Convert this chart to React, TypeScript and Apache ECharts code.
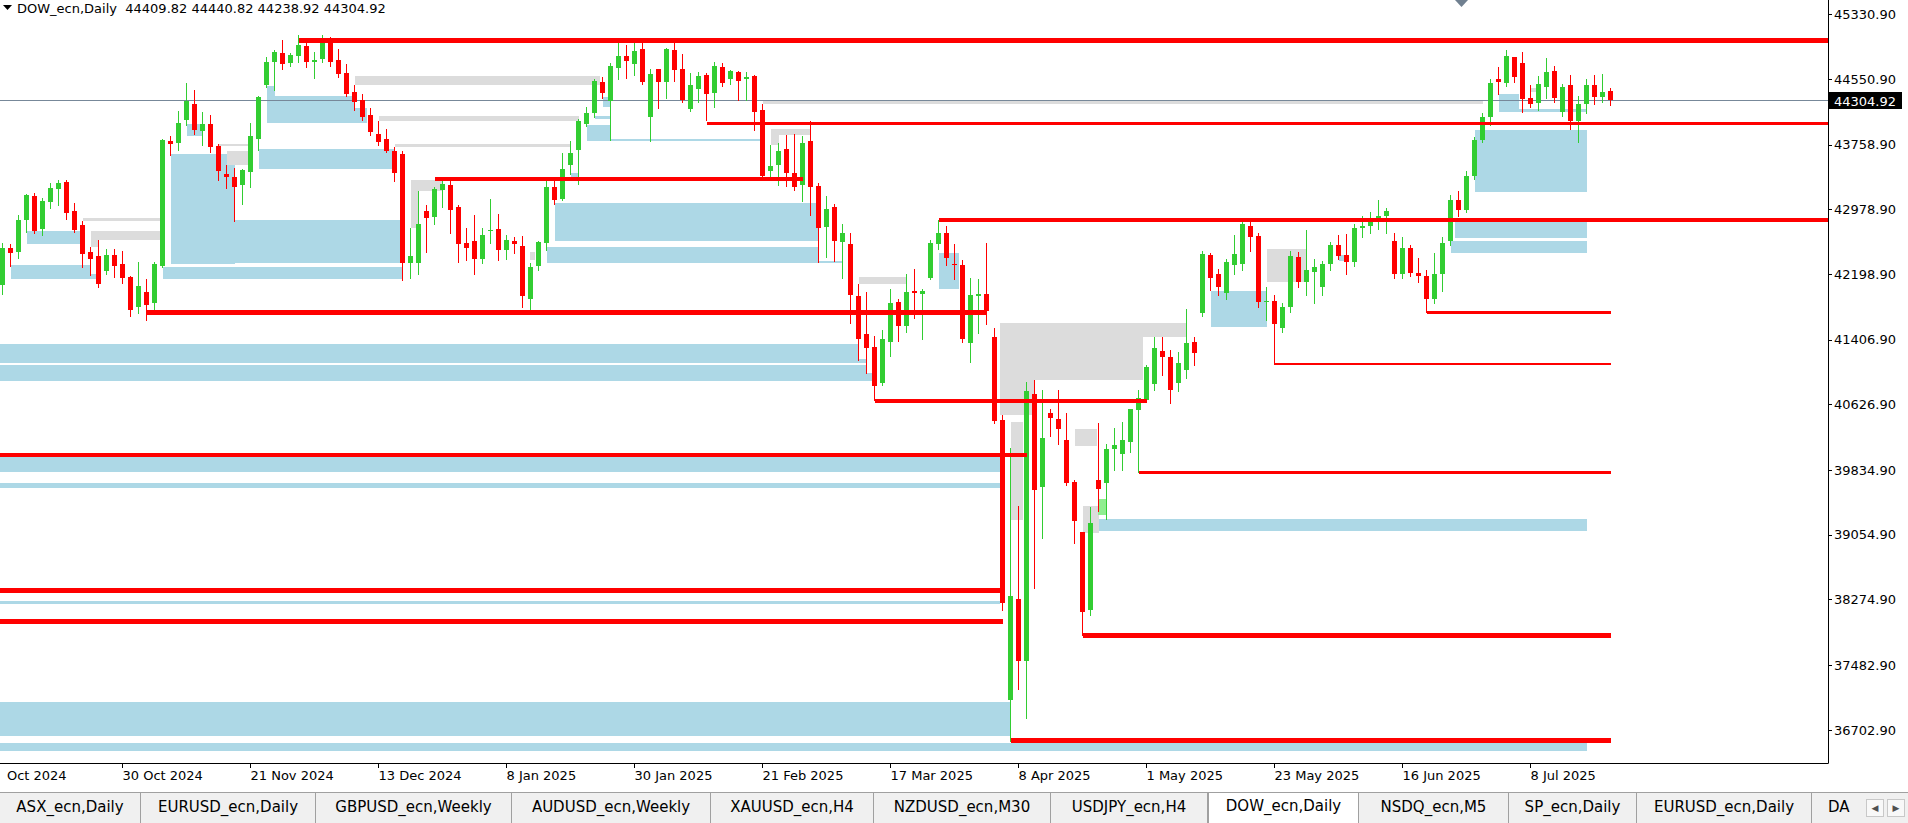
import React, { useEffect, useRef } from "react";
import * as echarts from "echarts";

type Bar = [number, number, number, number]; // open, high, low, close

const barsOct2024: Bar[] = [
  [42070, 42577, 41961, 42516], [42516, 42564, 42299, 42460], [42468, 42914, 42396, 42854],
  [42854, 43170, 42709, 43155], [43143, 43180, 42697, 42721], [42745, 43119, 42673, 43083],
  [43071, 43300, 42999, 43240], [43228, 43336, 43035, 43300], [43312, 43336, 42866, 42938],
  [42963, 43059, 42709, 42733], [42794, 42842, 42287, 42444], [42468, 42528, 42191, 42384],
  [42420, 42613, 42046, 42082], [42239, 42504, 42203, 42432], [42432, 42504, 42167, 42299],
  [42323, 42480, 42094, 42155], [42167, 42179, 41696, 41769],
];
const barsNov2024: Bar[] = [
  [41805, 42347, 41732, 42058], [41986, 42142, 41648, 41829], [41853, 42347, 41769, 42323],
  [42299, 43830, 42287, 43819], [43807, 43867, 43638, 43770], [43783, 44168, 43698, 44024],
  [44060, 44506, 44000, 44289], [44253, 44422, 43891, 43939], [43927, 44156, 43758, 44012],
  [44012, 44120, 43674, 43734], [43746, 43770, 43336, 43445], [43409, 43517, 43240, 43372],
  [43372, 43481, 42842, 43252], [43276, 43469, 43047, 43457], [43433, 44024, 43252, 43867],
  [43831, 44349, 43698, 44337], [44482, 44820, 44458, 44759], [44759, 44904, 44422, 44880],
  [44868, 45025, 44675, 44735], [44747, 44868, 44711, 44844], [44832, 45085, 44759, 44964],
];
const barsDec2024: Bar[] = [
  [44952, 45000, 44699, 44759], [44759, 44880, 44566, 44783], [44795, 45085, 44759, 45000],
  [45000, 45061, 44711, 44759], [44783, 44916, 44578, 44615], [44627, 44735, 44349, 44373],
  [44397, 44482, 44180, 44277], [44301, 44373, 44060, 44096], [44120, 44204, 43879, 43915],
  [43891, 44048, 43758, 43794], [43831, 43951, 43674, 43686], [43686, 43734, 43324, 43421],
  [43650, 43690, 42130, 42340], [42330, 42761, 42150, 42420], [42340, 43203, 42200, 42805],
  [42963, 43035, 42468, 42878], [42890, 43252, 42805, 43228], [43216, 43348, 43011, 43288],
  [43276, 43324, 42697, 42975], [43011, 43035, 42350, 42565], [42577, 42757, 42371, 42516],
];
const barsJan2025: Bar[] = [
  [42600, 42914, 42200, 42383], [42380, 42757, 42330, 42673], [42729, 43107, 42576, 42735],
  [42745, 42926, 42371, 42492], [42492, 42673, 42380, 42613], [42600, 42649, 42456, 42564],
  [42540, 42661, 41810, 41940], [41900, 42330, 41760, 42290], [42300, 42600, 42250, 42588],
  [42576, 43336, 42492, 43252], [43252, 43336, 43047, 43095], [43107, 43662, 43095, 43469],
  [43517, 43807, 43409, 43662], [43698, 44072, 43288, 44048], [44012, 44216, 43987, 44144],
  [44144, 44554, 44096, 44530], [44518, 44578, 44325, 44385], [44289, 44747, 43819, 44711],
  [44687, 44988, 44554, 44832], [44832, 44964, 44566, 44771], [44735, 45025, 44602, 44892],
  [44916, 45050, 44494, 44518],
];
const barsFeb2025: Bar[] = [
  [44096, 44675, 43807, 44615], [44675, 44675, 44205, 44518], [44518, 44928, 44325, 44916],
  [44904, 44988, 44530, 44663], [44675, 44856, 44277, 44301], [44192, 44627, 44168, 44482],
  [44434, 44639, 44277, 44590], [44603, 44627, 44060, 44373], [44385, 44759, 44217, 44711],
  [44699, 44747, 44470, 44506], [44554, 44663, 44494, 44651], [44639, 44651, 44301, 44530],
  [44554, 44639, 44301, 44578], [44590, 44603, 43939, 44156], [44180, 44253, 43372, 43385],
  [43445, 43758, 43348, 43505], [43517, 43782, 43276, 43686], [43710, 43879, 43264, 43421],
  [43421, 43891, 43216, 43252], [43276, 43867, 43083, 43782],
];
const barsMar2025: Bar[] = [
  [43806, 44048, 42914, 43252], [43264, 43300, 42347, 42757], [42769, 43143, 42408, 42986],
  [43011, 43047, 42359, 42600], [42592, 42800, 42158, 42700], [42564, 42700, 41616, 41949],
  [41937, 42082, 41165, 41419], [41479, 41985, 41005, 41310], [41322, 41455, 40683, 40852],
  [40888, 41527, 40864, 41419], [41383, 42022, 41214, 41853], [41865, 41901, 41395, 41575],
  [41575, 42203, 41503, 41986], [41997, 42263, 41672, 41973], [41965, 42022, 41419, 41997],
  [42154, 42612, 42142, 42576], [42564, 42850, 42500, 42700], [42700, 42780, 42311, 42395],
  [42320, 42564, 42142, 42311], [42311, 42371, 41380, 41419], [41370, 42154, 41141, 41949],
];
const barsApr2025: Bar[] = [
  [41937, 42142, 41491, 41961], [41961, 42576, 41600, 41756], [41443, 41551, 40406, 40430],
  [40440, 40500, 38150, 38230], [37070, 40100, 36571, 38320], [38283, 39400, 37200, 37535],
  [37535, 40904, 36850, 40792], [40750, 40924, 38412, 39600], [39638, 40804, 39014, 40221],
  [40530, 40570, 40250, 40466], [40450, 40804, 40150, 40329], [40200, 40522, 39658, 39678],
  [39698, 39718, 38954, 39228], [39095, 39095, 37850, 38130], [38150, 39397, 38090, 39196],
  [39718, 40402, 39350, 39606], [39678, 40150, 39244, 40088], [40088, 40350, 39840, 40140],
  [40032, 40420, 39840, 40201], [40172, 40574, 40050, 40574], [40562, 40804, 39814, 40711],
];
const barsMay2025: Bar[] = [
  [40683, 41100, 40660, 41085], [40872, 41439, 40800, 41314], [41274, 41439, 40985, 41206],
  [41206, 41286, 40651, 40804], [40884, 41266, 40796, 41133], [41045, 41776, 40950, 41366],
  [41378, 41439, 41100, 41250], [41736, 42480, 41700, 42444], [42432, 42456, 42010, 42150],
  [42200, 42260, 41950, 42050], [41969, 42384, 41900, 42347], [42311, 42673, 42200, 42444],
  [42323, 42854, 42250, 42806], [42782, 42854, 42480, 42649], [42661, 42700, 41800, 41860],
  [41860, 42050, 41650, 41880], [41880, 41950, 41120, 41600], [41550, 41850, 41500, 41800],
  [41800, 42480, 41750, 42420], [42408, 42468, 42050, 42100], [42100, 42733, 41950, 42250],
  [42230, 42384, 41850, 42290],
];
const barsJun2025: Bar[] = [
  [42050, 42359, 41950, 42323], [42323, 42589, 42250, 42552], [42552, 42673, 42380, 42420],
  [42432, 42685, 42200, 42347], [42350, 42800, 42300, 42760], [42760, 42900, 42650, 42780],
  [42780, 42950, 42700, 42870], [42870, 43100, 42750, 42900], [42900, 43000, 42700, 42960],
  [42600, 42700, 42150, 42200], [42200, 42650, 42150, 42520], [42520, 42550, 42180, 42220],
  [42220, 42400, 42100, 42180], [42180, 42250, 41740, 41900], [41900, 42450, 41850, 42200],
  [42200, 42650, 42000, 42580], [42600, 43150, 42550, 43090], [43090, 43200, 42900, 42980],
  [42980, 43450, 42950, 43390], [43390, 43850, 43350, 43820], [43820, 44150, 43800, 44100],
];
const barsJul2025: Bar[] = [
  [44100, 44550, 44000, 44500], [44552, 44700, 44374, 44517], [44503, 44903, 44468, 44829],
  [44814, 44814, 44517, 44577], [44745, 44878, 44162, 44310], [44330, 44483, 44211, 44251],
  [44265, 44587, 44177, 44488], [44463, 44804, 44320, 44636], [44646, 44705, 44275, 44320],
  [44157, 44488, 44107, 44463], [44480, 44600, 43950, 44050], [44050, 44350, 43800, 44250],
  [44250, 44550, 44150, 44480], [44480, 44600, 44250, 44340], [44340, 44620, 44280, 44400],
  [44409.82, 44440.82, 44238.92, 44304.92],
];

const bars: Bar[] = [
  ...barsOct2024, ...barsNov2024, ...barsDec2024, ...barsJan2025, ...barsFeb2025,
  ...barsMar2025, ...barsApr2025, ...barsMay2025, ...barsJun2025, ...barsJul2025,
];

// time-scale tick labels (bar index, text)
const dateTickIndex = [-1, 15, 31, 47, 63, 79, 95, 111, 127, 143, 159, 175, 191];
const dateTickText = [
  "8 Oct 2024", "30 Oct 2024", "21 Nov 2024", "13 Dec 2024", "8 Jan 2025", "30 Jan 2025",
  "21 Feb 2025", "17 Mar 2025", "8 Apr 2025", "1 May 2025", "23 May 2025", "16 Jun 2025", "8 Jul 2025",
];
const priceTicks = [
  45330.9, 44550.9, 43758.9, 42978.9, 42198.9, 41406.9, 40626.9, 39834.9, 39054.9, 38274.9, 37482.9, 36702.9,
];

// zones: [fromBar, toBar, lowPrice, highPrice]
const blueZones: number[][] = [
  [3, 9.7, 42564, 42721], [1, 11, 42142, 42311], [11, 11.7, 42142, 42202],
  [23, 25, 43867, 44012], [21, 29, 42323, 43650], [29, 50, 42338, 42854], [20, 50, 42145, 42290],
  [32, 49, 43469, 43710], [33, 44, 44024, 44349], [44, 45.5, 44024, 44200], [33, 34, 44349, 44470],
  [75, 76, 44216, 44337], [74, 76, 44072, 44108], [73, 76, 43807, 43999], [76, 95, 43811, 43831],
  [71, 72, 43372, 43421], [69, 102, 42600, 43059], [68, 102, 42335, 42528], [102, 105, 42335, 42359],
  [-1, 107, 41129, 41358], [107, 108, 41129, 41178], [-1, 108, 40912, 41105], [108, 108.7, 40912, 41009],
  [117, 119.6, 42022, 42452],
  [-1, 124.7, 39819, 40000], [-1, 124.7, 39626, 39682], [-1, 124.7, 38223, 38259],
  [-1, 126, 36630, 37041], [-1, 198, 36453, 36541],
  [137, 198, 39100, 39250], [151, 158, 41560, 42000], [167, 167.7, 42360, 42432],
  [187, 189.5, 44162, 44379], [189.5, 198, 44162, 44190],
  [184, 198, 43189, 43937], [181.5, 198, 42631, 42866], [181, 198, 42455, 42602],
];
const grayZones: number[][] = [
  [10, 19.7, 42842, 42878], [11, 19.7, 42613, 42721], [11, 12, 42530, 42613],
  [27, 30.7, 43746, 43770], [28, 30.7, 43517, 43686],
  [44, 74.7, 44482, 44590], [47, 72, 44048, 44108], [49, 71, 43734, 43770],
  [51, 55, 43203, 43336], [51, 52, 42761, 43203], [65.9, 66.5, 42371, 42468],
  [95, 185, 44253, 44301], [96, 101, 43879, 43951], [96, 97, 43758, 43879],
  [107, 113, 42082, 42166],
  [124.7, 148, 41440, 41616], [124.7, 142.5, 40924, 41440], [124.7, 129, 40502, 40924],
  [126, 127.5, 39236, 40422], [134, 136.8, 40128, 40333], [135, 137, 39083, 39405],
  [158, 163, 42100, 42500], [191, 192, 44400, 44450],
];
const greenZones: number[][] = [[136.9, 138, 39296, 39485]];

// levels: [fromBar, toBar, price, thicknessPx]
const redLevels: number[][] = [
  [37, 230, 45020, 5], [88, 230, 44018, 3], [54, 100, 43348, 4], [117, 230, 42850, 4],
  [18, 123, 41733, 5], [178, 201, 41736, 3], [159, 201, 41120, 2], [109, 143, 40673, 4],
  [-1, 128, 40024, 4], [142, 201, 39814, 3], [-1, 125, 38383, 5], [-1, 125, 38007, 5],
  [135, 201, 37845, 5], [126, 201, 36571, 5],
];

const chartTitle = "DOW_ecn,Daily  44409.82 44440.82 44238.92 44304.92";
const lastPrice = 44304.92;

const tabLabels = [
  "ASX_ecn,Daily", "EURUSD_ecn,Daily", "GBPUSD_ecn,Weekly", "AUDUSD_ecn,Weekly", "XAUUSD_ecn,H4",
  "NZDUSD_ecn,M30", "USDJPY_ecn,H4", "DOW_ecn,Daily", "NSDQ_ecn,M5", "SP_ecn,Daily",
  "EURUSD_ecn,Daily", "DA",
];
const tabLefts = [0, 141, 316, 512, 711, 874, 1051, 1208, 1359, 1509, 1637, 1812, 1864];
const activeTab = 7;

const FONT = "Tahoma, 'DejaVu Sans', sans-serif";
const BULL = "#32CD32";
const BEAR = "#FF0000";
const X_MIN = -0.3125;
const X_MAX = 228.1875;
const Y_MAX = 45507;
const Y_MIN = 36305;
const GRID_W = 1828;
const GRID_H = 763;

function zoneRenderer(fill: string) {
  return (_p: any, api: any) => {
    const a = api.coord([api.value(0), api.value(3)]);
    const b = api.coord([api.value(1), api.value(2)]);
    const x0 = Math.round(a[0]);
    const y0 = Math.round(a[1]);
    return {
      type: "rect",
      shape: { x: x0, y: y0, width: Math.round(b[0]) - x0, height: Math.max(1, Math.round(b[1]) - y0) },
      style: { fill },
      silent: true,
    };
  };
}

function candleRenderer(_p: any, api: any) {
  const i = api.value(0);
  const o = api.value(1);
  const h = api.value(2);
  const l = api.value(3);
  const c = api.value(4);
  const cx = api.coord([i, o])[0];
  const yo = api.coord([i, o])[1];
  const yc = api.coord([i, c])[1];
  const yh = Math.round(api.coord([i, h])[1]);
  const yl = Math.round(api.coord([i, l])[1]);
  const color = c >= o ? BULL : BEAR;
  const top = Math.round(Math.min(yo, yc));
  const bot = Math.round(Math.max(yo, yc));
  const left = Math.round(cx - 2.5);
  return {
    type: "group",
    children: [
      { type: "rect", shape: { x: left + 2, y: yh, width: 1, height: Math.max(1, yl - yh + 1) }, style: { fill: color } },
      { type: "rect", shape: { x: left, y: top, width: 5, height: Math.max(1, bot - top) }, style: { fill: color } },
    ],
    silent: true,
  };
}

function levelRenderer(_p: any, api: any) {
  const a = api.coord([api.value(0), api.value(2)]);
  const b = api.coord([api.value(1), api.value(2)]);
  const t = api.value(3);
  const x0 = Math.round(a[0]);
  return {
    type: "rect",
    shape: { x: x0, y: Math.round(a[1] - t / 2), width: Math.round(b[0]) - x0, height: t },
    style: { fill: BEAR },
    silent: true,
  };
}

function priceLineRenderer(_p: any, api: any) {
  const a = api.coord([X_MIN, api.value(0)]);
  return {
    type: "rect",
    shape: { x: 0, y: Math.round(a[1]), width: GRID_W, height: 1 },
    style: { fill: "#778899" },
    silent: true,
  };
}

function textWidth(text: string, font: string): number {
  const cv = document.createElement("canvas");
  const ctx = cv.getContext("2d");
  if (!ctx) return 0;
  ctx.font = font;
  return ctx.measureText(text).width;
}

export default function App() {
  const ref = useRef<HTMLDivElement>(null);

  useEffect(() => {
    if (!ref.current) return;
    const chart = echarts.init(ref.current, undefined, { renderer: "svg" });
    const tickLabelOf = (v: number) => {
      const k = dateTickIndex.indexOf(Math.round(v));
      return k >= 0 ? dateTickText[k] : "";
    };
    const zoneSeries = (data: number[][], fill: string, z: number) => ({
      type: "custom",
      renderItem: zoneRenderer(fill),
      data,
      encode: { x: [0, 1], y: [2, 3] },
      clip: true,
      z,
      silent: true,
    });
    chart.setOption({
      animation: false,
      backgroundColor: "#FFFFFF",
      grid: { left: 0, top: 0, width: GRID_W, height: GRID_H, containLabel: false },
      xAxis: {
        type: "value",
        min: X_MIN,
        max: X_MAX,
        axisLine: { show: true, onZero: false, lineStyle: { color: "#000", width: 1 } },
        axisTick: { show: true, customValues: dateTickIndex.slice(1), length: 5, lineStyle: { color: "#000" } },
        axisLabel: {
          show: true,
          customValues: dateTickIndex.slice(1),
          formatter: (v: number) => tickLabelOf(v),
          align: "left",
          margin: 6,
          color: "#000",
          fontSize: 13,
          fontFamily: FONT,
        },
        splitLine: { show: false },
      },
      yAxis: {
        type: "value",
        position: "right",
        min: Y_MIN,
        max: Y_MAX,
        axisLine: { show: true, onZero: false, lineStyle: { color: "#000", width: 1 } },
        axisTick: { show: true, customValues: priceTicks, length: 4, inside: false, lineStyle: { color: "#000" } },
        axisLabel: {
          show: true,
          customValues: priceTicks,
          formatter: (v: number) => v.toFixed(2),
          margin: 6,
          color: "#000",
          fontSize: 13,
          fontFamily: FONT,
        },
        splitLine: { show: false },
      },
      series: [
        zoneSeries(blueZones, "#ADD8E6", 1),
        zoneSeries(grayZones, "#DCDCDC", 2),
        zoneSeries(greenZones, "#90EE90", 2),
        {
          type: "custom",
          renderItem: priceLineRenderer,
          data: [[lastPrice]],
          encode: { y: 0 },
          clip: true,
          z: 3,
          silent: true,
        },
        {
          type: "custom",
          renderItem: candleRenderer,
          data: bars.map((b, i) => [i, b[0], b[1], b[2], b[3]]),
          encode: { x: 0, y: [1, 2, 3, 4] },
          clip: true,
          z: 4,
          silent: true,
        },
        {
          type: "custom",
          renderItem: levelRenderer,
          data: redLevels,
          encode: { x: [0, 1], y: 2 },
          clip: true,
          z: 5,
          silent: true,
        },
      ],
    });

    // first date label starts left of the plot: only its visible part is drawn
    const labelFont = `13px ${FONT}`;
    const firstX = chart.convertToPixel({ xAxisIndex: 0 }, dateTickIndex[0]) as number;
    const parts = dateTickText[0].split(" ");
    const dayPart = parts[0] + " ";
    const visiblePart = parts.slice(1).join(" ");
    const visibleX = firstX + textWidth(dayPart, labelFont);
    const lastY = chart.convertToPixel({ yAxisIndex: 0 }, lastPrice) as number;
    chart.setOption({
      graphic: [
        {
          type: "polygon",
          shape: { points: [[3, 5], [12, 5], [7.5, 10]] },
          style: { fill: "#000" },
          silent: true,
        },
        {
          type: "text",
          x: 17,
          y: 2,
          style: { text: chartTitle, fill: "#000", font: labelFont, textVerticalAlign: "top" },
          silent: true,
        },
        {
          type: "text",
          x: Math.max(1, visibleX),
          y: GRID_H + 6,
          style: { text: visiblePart, fill: "#000", font: labelFont, textVerticalAlign: "top" },
          silent: true,
        },
        {
          type: "rect",
          shape: { x: GRID_W + 1, y: Math.round(lastY) - 8, width: 73, height: 17 },
          style: { fill: "#000" },
          silent: true,
        },
        {
          type: "text",
          x: GRID_W + 6,
          y: Math.round(lastY) + 1,
          style: { text: lastPrice.toFixed(2), fill: "#FFF", font: labelFont, textVerticalAlign: "middle" },
          silent: true,
        },
        {
          type: "polygon",
          shape: { points: [[1455, 0], [1468, 0], [1461.5, 7]] },
          style: { fill: "#708090" },
          silent: true,
        },
      ],
    });

    return () => chart.dispose();
  }, []);

  return (
    <div style={{ position: "fixed", left: 0, top: 0, width: 1908, height: 823, background: "#FFF", overflow: "hidden" }}>
      <div ref={ref} style={{ position: "absolute", left: 0, top: 0, width: 1908, height: 792 }} />
      <div
        style={{
          position: "absolute", left: 0, top: 792, width: 1908, height: 31, background: "#F0F0F0",
          borderTop: "1px solid #A0A0A0", boxSizing: "border-box", overflow: "hidden",
        }}
      >
        {tabLabels.map((t, k) => (
          <div
            key={k}
            style={{
              position: "absolute",
              left: tabLefts[k],
              top: k === activeTab ? -1 : 0,
              width: tabLefts[k + 1] - tabLefts[k],
              height: k === activeTab ? 31 : 30,
              boxSizing: "border-box",
              background: k === activeTab ? "#FFF" : "transparent",
              borderRight: k === tabLabels.length - 1 ? "none" : "1px solid #A0A0A0",
              borderLeft: k === activeTab ? "1px solid #A0A0A0" : "none",
              font: `15px ${FONT}`,
              color: "#000",
              textAlign: k === tabLabels.length - 1 ? "left" : "center",
              paddingLeft: k === tabLabels.length - 1 ? 16 : 0,
              lineHeight: "28px",
              whiteSpace: "nowrap",
              overflow: "hidden",
            }}
          >
            {t}
          </div>
        ))}
        <div style={{ position: "absolute", left: 1866, top: 6, width: 18, height: 18, border: "1px solid #C8C8C8", boxSizing: "border-box", background: "#F8F8F8", font: `9px ${FONT}`, color: "#505050", textAlign: "center", lineHeight: "16px" }}>◀</div>
        <div style={{ position: "absolute", left: 1887, top: 6, width: 18, height: 18, border: "1px solid #C8C8C8", boxSizing: "border-box", background: "#F8F8F8", font: `9px ${FONT}`, color: "#505050", textAlign: "center", lineHeight: "16px" }}>▶</div>
      </div>
    </div>
  );
}
